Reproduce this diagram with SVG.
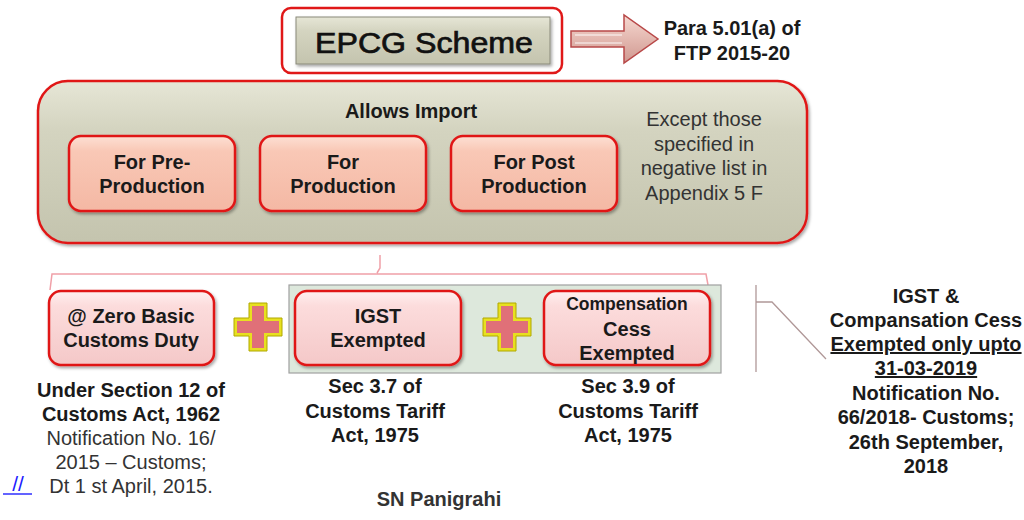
<svg xmlns="http://www.w3.org/2000/svg" width="1024" height="520" viewBox="0 0 1024 520">
<style>
text{font-family:"Liberation Sans",Arial,sans-serif;fill:#1a1a1a;text-anchor:middle}
.b{font-weight:bold}
.n{font-size:20px}
.r{font-size:20px;fill:#333}
.box{stroke:#e01818;stroke-width:2.5}
.con{fill:none;stroke:#f0a0a8;stroke-width:1.5}
</style>
<defs>
<linearGradient id="gPeach" x1="0" y1="0" x2="0" y2="1">
<stop offset="0" stop-color="#fde0d4"/><stop offset="0.2" stop-color="#f9c8b6"/><stop offset="1" stop-color="#f4b8a4"/>
</linearGradient>
<linearGradient id="gPink" x1="0" y1="0" x2="0" y2="1">
<stop offset="0" stop-color="#fff0f0"/><stop offset="0.2" stop-color="#fcdcdc"/><stop offset="1" stop-color="#f4c8c8"/>
</linearGradient>
<linearGradient id="gGray" x1="0" y1="0" x2="0" y2="1">
<stop offset="0" stop-color="#e6e6d6"/><stop offset="0.3" stop-color="#d4d4c0"/><stop offset="1" stop-color="#c4c4ae"/>
</linearGradient>
<linearGradient id="gArrow" x1="0" y1="0" x2="0" y2="1">
<stop offset="0" stop-color="#f6d8d0"/><stop offset="1" stop-color="#d09890"/>
</linearGradient>
<filter id="sh" x="-10%" y="-10%" width="120%" height="130%">
<feDropShadow dx="1.5" dy="2" stdDeviation="1.5" flood-color="#000" flood-opacity="0.35"/>
</filter>
<g id="plus">
<path d="M-9,-24 H9 V-9 H24 V9 H9 V24 H-9 V9 H-24 V-9 H-9 Z" fill="#e8e020" stroke="#b0a800" stroke-width="1"/>
<path d="M-6,-21 H6 V-6 H21 V6 H6 V21 H-6 V6 H-21 V-6 H-6 Z" fill="#e07078"/>
</g>
</defs>

<g id="connectors">
<path class="con" d="M380,255 L380,268 L377,273 M50,290 L52,274 L706,274 L708,285"/>
<path fill="none" stroke="#b09898" stroke-width="1.3" d="M756,285 V372 M756,302 H772 L826,359"/>
</g>

<g id="epcg">
<rect x="282" y="8" width="280" height="65" rx="9" fill="#fff" class="box"/>
<rect x="296" y="17" width="254" height="47" fill="url(#gGray)" stroke="#8a8a7a" stroke-width="1" filter="url(#sh)"/>
<text x="424" y="53" textLength="218" lengthAdjust="spacingAndGlyphs" style="font-size:29px;fill:#111;stroke:#111;stroke-width:0.7">EPCG Scheme</text>
</g>

<g id="arrow">
<path d="M571,31 H624 V15 L658,39 L624,63 V47 H571 Z" fill="url(#gArrow)" stroke="#b84848" stroke-width="1.5"/>
<path d="M575,35 H622 M575,43 H622" stroke="#fff" stroke-width="1.5" opacity="0.6"/>
</g>

<g id="para">
<text class="b n" x="732" y="35">Para 5.01(a) of</text>
<text class="b n" x="732" y="60">FTP 2015-20</text>
</g>

<g id="allows">
<rect x="38" y="81" width="769" height="162" rx="30" fill="url(#gGray)" class="box" filter="url(#sh)"/>
<text class="b n" x="411" y="118">Allows Import</text>
<text class="r" x="704" y="126">Except those</text>
<text class="r" x="704" y="151">specified in</text>
<text class="r" x="704" y="175">negative list in</text>
<text class="r" x="704" y="200">Appendix 5 F</text>
</g>

<g id="pre">
<rect x="69" y="136" width="166" height="75" rx="12" fill="url(#gPeach)" class="box" filter="url(#sh)"/>
<text class="b n" x="152" y="169">For Pre-</text>
<text class="b n" x="152" y="193">Production</text>
</g>
<g id="prod">
<rect x="260" y="136" width="166" height="75" rx="12" fill="url(#gPeach)" class="box" filter="url(#sh)"/>
<text class="b n" x="343" y="169">For</text>
<text class="b n" x="343" y="193">Production</text>
</g>
<g id="post">
<rect x="451" y="136" width="166" height="75" rx="12" fill="url(#gPeach)" class="box" filter="url(#sh)"/>
<text class="b n" x="534" y="169">For Post</text>
<text class="b n" x="534" y="193">Production</text>
</g>

<g id="exempt-group">
<rect x="289" y="285" width="432" height="88" fill="#dde8dc" stroke="#a0a0a0" stroke-width="1.2"/>
</g>

<g id="zero">
<rect x="49" y="291" width="165" height="74" rx="12" fill="url(#gPink)" class="box" filter="url(#sh)"/>
<text class="b n" x="131" y="323">@ Zero Basic</text>
<text class="b n" x="131" y="347">Customs Duty</text>
</g>
<use href="#plus" x="258" y="327"/>
<g id="igst">
<rect x="295" y="291" width="166" height="74" rx="12" fill="url(#gPink)" class="box" filter="url(#sh)"/>
<text class="b n" x="378" y="323">IGST</text>
<text class="b n" x="378" y="347">Exempted</text>
</g>
<use href="#plus" x="507" y="327"/>
<g id="cess">
<rect x="544" y="291" width="166" height="74" rx="12" fill="url(#gPink)" class="box" filter="url(#sh)"/>
<text class="b" x="627" y="310" style="font-size:17.5px">Compensation</text>
<text class="b n" x="627" y="336">Cess</text>
<text class="b n" x="627" y="360">Exempted</text>
</g>

<g id="notes-zero">
<text class="b n" x="131" y="397">Under Section 12 of</text>
<text class="b n" x="131" y="421">Customs Act, 1962</text>
<text class="r" x="131" y="445">Notification No. 16/</text>
<text class="r" x="131" y="469">2015 – Customs;</text>
<text class="r" x="131" y="493">Dt 1 st April, 2015.</text>
</g>
<g id="link">
<text x="18" y="491" style="font-size:21px;fill:#2020ff">//</text>
<line x1="3" y1="494" x2="32" y2="494" stroke="#2020ff" stroke-width="1.4"/>
</g>
<g id="notes-igst">
<text class="b n" x="375" y="393">Sec 3.7 of</text>
<text class="b n" x="375" y="418">Customs Tariff</text>
<text class="b n" x="375" y="442">Act, 1975</text>
</g>
<g id="notes-cess">
<text class="b n" x="628" y="393">Sec 3.9 of</text>
<text class="b n" x="628" y="418">Customs Tariff</text>
<text class="b n" x="628" y="442">Act, 1975</text>
</g>
<g id="notes-right">
<text class="b n" x="926" y="303">IGST &amp;</text>
<text class="b n" x="926" y="327">Compansation Cess</text>
<text class="b n" x="926" y="351" text-decoration="underline">Exempted only upto</text>
<text class="b n" x="926" y="375" text-decoration="underline">31-03-2019</text>
<text class="b n" x="926" y="400">Notification No.</text>
<text class="b n" x="926" y="424">66/2018- Customs;</text>
<text class="b n" x="926" y="449">26th September,</text>
<text class="b n" x="926" y="473">2018</text>
</g>
<g id="author">
<text class="b n" x="439" y="506" style="fill:#333">SN Panigrahi</text>
</g>
</svg>
